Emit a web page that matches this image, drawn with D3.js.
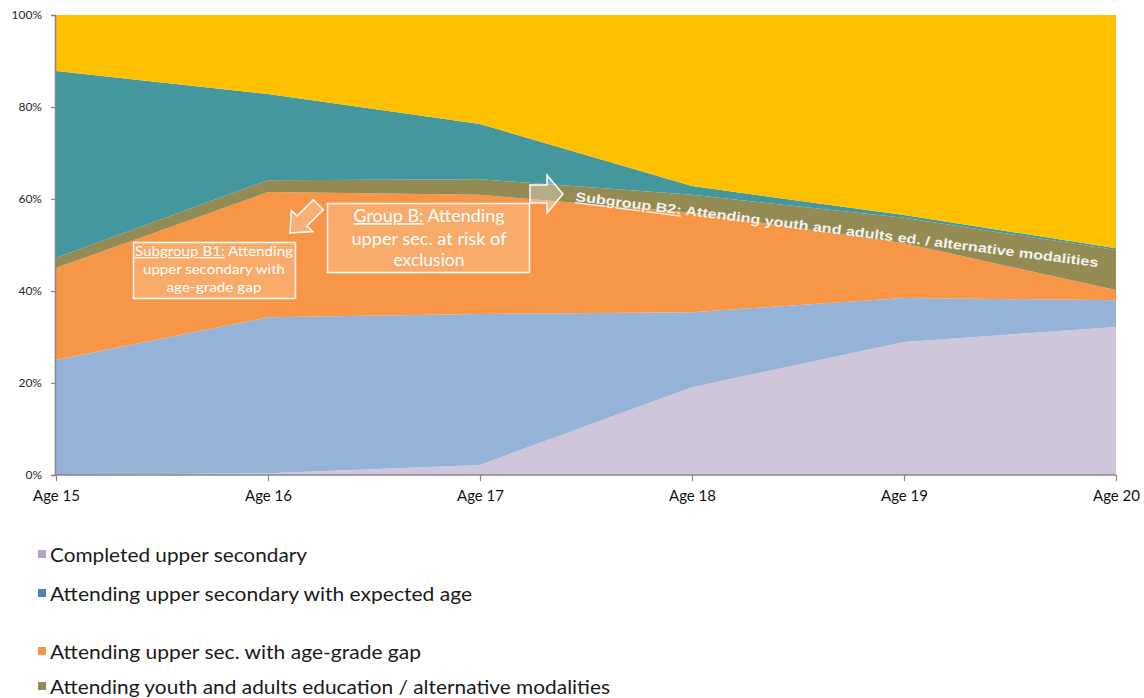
<!DOCTYPE html>
<html>
<head>
<meta charset="utf-8">
<script src="https://cdn.jsdelivr.net/npm/d3@7"></script>
<style>
  html, body { margin: 0; padding: 0; background: #fff; }
  svg { display: block; }
</style>
</head>
<body>
<svg id="chart" width="1144" height="698"></svg>
<script>
// Age groups along the x axis
const ages = ["Age 15", "Age 16", "Age 17", "Age 18", "Age 19", "Age 20"];

// Share of each age cohort (%) by educational situation, bottom layer first
const completed      = [0.0, 0.4, 2.2, 19.1, 28.9, 32.2];
const expectedAge    = [25.0, 33.9, 32.8, 16.3, 9.6, 5.8];
const ageGradeGap    = [20.0, 27.2, 25.9, 21.6, 11.9, 2.2];
const youthAdultEd   = [2.2, 2.6, 3.4, 3.9, 5.5, 8.7];
const lowerSecondary = [40.6, 18.7, 12.0, 1.9, 0.6, 0.4];
const notAttending   = [12.2, 17.2, 23.7, 37.2, 43.5, 50.7];

const yTicks = [0, 20, 40, 60, 80, 100];

const seriesKeys = ["completed", "expectedAge", "ageGradeGap", "youthAdultEd", "lowerSecondary", "notAttending"];
const seriesValues = { completed, expectedAge, ageGradeGap, youthAdultEd, lowerSecondary, notAttending };
const areaColors = {
  completed: "#d0c6dc",
  expectedAge: "#95b3d7",
  ageGradeGap: "#f79646",
  youthAdultEd: "#948a54",
  lowerSecondary: "#44979d",
  notAttending: "#ffc000"
};

// Legend (only the four school-attendance groups)
const legendLabels = [
  "Completed upper secondary",
  "Attending upper secondary with expected age",
  "Attending upper sec. with age-grade gap",
  "Attending youth and adults education / alternative modalities"
];
const legendColors = ["#b3a2c7", "#4f81bd", "#f79646", "#948a54"];

const rows = ages.map((a, i) => {
  const r = { age: a };
  seriesKeys.forEach(k => r[k] = seriesValues[k][i]);
  return r;
});

const svg = d3.select("#chart");
const font = "Lato, 'Open Sans', sans-serif";

const x = d3.scalePoint().domain(ages).range([56, 1116]);
const y = d3.scaleLinear().domain([0, 100]).range([475, 15]);

const stack = d3.stack().keys(seriesKeys);
const layers = stack(rows);

const area = d3.area()
  .x(d => x(d.data.age))
  .y0(d => y(d[0]))
  .y1(d => y(d[1]))
  .curve(d3.curveLinear);

svg.append("g").selectAll("path")
  .data(layers)
  .join("path")
  .attr("d", area)
  .attr("fill", d => areaColors[d.key]);

// Axes
const axisColor = "#868686";
const yAxis = svg.append("g")
  .attr("transform", "translate(55,0)")
  .call(d3.axisLeft(y).tickValues(yTicks).tickFormat(d => d + "%").tickSize(4).tickPadding(9));
yAxis.select(".domain").attr("stroke", axisColor).attr("stroke-width", 1.5);
yAxis.selectAll(".tick line").attr("stroke", axisColor).attr("stroke-width", 1.2);
yAxis.selectAll(".tick text")
  .attr("font-family", font).attr("font-size", 12).attr("fill", "#262626");

const xAxis = svg.append("g")
  .attr("transform", "translate(0,475)")
  .call(d3.axisBottom(x).tickSize(6).tickPadding(9).tickSizeOuter(0));
xAxis.select(".domain").attr("stroke", axisColor).attr("stroke-width", 1.5)
  .attr("d", "M55,0H1116");
xAxis.selectAll(".tick line").attr("stroke", axisColor).attr("stroke-width", 1.2);
xAxis.selectAll(".tick text")
  .attr("font-family", font).attr("font-size", 15).attr("fill", "#111")
  .attr("dy", "0.72em");

// Legend
const legendRowY = [555, 594, 652, 687];
const legendTextLen = [257, 422, 371, 560];
const legend = svg.append("g");
legendLabels.forEach((lab, i) => {
  legend.append("rect")
    .attr("x", 38).attr("y", legendRowY[i] - 5)
    .attr("width", 8).attr("height", 8)
    .attr("fill", legendColors[i]);
  legend.append("text")
    .attr("x", 50).attr("y", legendRowY[i] + 7)
    .attr("font-family", font).attr("font-size", 19).attr("fill", "#1a1a1a")
    .attr("textLength", legendTextLen[i]).attr("lengthAdjust", "spacingAndGlyphs")
    .text(lab);
});

// Annotations
const ann = svg.append("g");
const boxFill = "rgba(255,255,255,0.2)";

// Block arrow shape pointing along +x, tip at origin
function blockArrow(len, shaftHalf, headLen, headHalf) {
  return `M${-len},${-shaftHalf}H${-headLen}V${-headHalf}L0,0L${-headLen},${headHalf}V${shaftHalf}H${-len}Z`;
}

// Subgroup B1 box
ann.append("rect").attr("x", 133.5).attr("y", 242.5).attr("width", 162).attr("height", 56)
  .attr("fill", boxFill).attr("stroke", "#fff").attr("stroke-width", 1.5);
const b1 = [
  { parts: [["Subgroup B1:", true], [" Attending", false]], y: 256, len: 158 },
  { parts: [["upper secondary with", false]], y: 274, len: 142 },
  { parts: [["age-grade gap", false]], y: 292, len: 95 }
];
b1.forEach(l => {
  const t = ann.append("text").attr("x", 214).attr("y", l.y).attr("text-anchor", "middle")
    .attr("font-family", font).attr("font-size", 13).attr("fill", "#fff")
    .attr("textLength", l.len).attr("lengthAdjust", "spacingAndGlyphs");
  l.parts.forEach(p => t.append("tspan").text(p[0]).style("text-decoration", p[1] ? "underline" : "none"));
});

// Group B box
ann.append("rect").attr("x", 327.5).attr("y", 203.5).attr("width", 202).attr("height", 69)
  .attr("fill", boxFill).attr("stroke", "#fff").attr("stroke-width", 1.5);
const gb = [
  { parts: [["Group B:", true], [" Attending", false]], y: 222, len: 151 },
  { parts: [["upper sec. at risk of", false]], y: 245, len: 155 },
  { parts: [["exclusion", false]], y: 266, len: 71 }
];
gb.forEach(l => {
  const t = ann.append("text").attr("x", 429).attr("y", l.y).attr("text-anchor", "middle")
    .attr("font-family", font).attr("font-size", 17).attr("fill", "#fff")
    .attr("textLength", l.len).attr("lengthAdjust", "spacingAndGlyphs");
  l.parts.forEach(p => t.append("tspan").text(p[0]).style("text-decoration", p[1] ? "underline" : "none"));
});

// Arrow towards subgroup B1 (down-left)
ann.append("path")
  .attr("d", blockArrow(40, 7, 17, 15))
  .attr("transform", "translate(290,233) rotate(135)")
  .attr("fill", "rgba(255,255,255,0.25)").attr("stroke", "#fff").attr("stroke-width", 1.5)
  .attr("stroke-linejoin", "miter");

// Arrow towards subgroup B2 (right)
ann.append("path")
  .attr("d", blockArrow(33, 9, 16, 19))
  .attr("transform", "translate(563,194)")
  .attr("fill", "rgba(255,255,255,0.3)").attr("stroke", "#fff").attr("stroke-width", 1.5)
  .attr("stroke-linejoin", "miter");

// Subgroup B2 label running along its band
const b2 = ann.append("text")
  .attr("transform", "translate(575,201) rotate(7.2)")
  .attr("font-family", "'Liberation Sans', Arial, sans-serif").attr("font-size", 13)
  .attr("font-weight", "bold").attr("fill", "#f4f4f0")
  .attr("textLength", 527).attr("lengthAdjust", "spacingAndGlyphs");
b2.append("tspan").text("Subgroup B2:").style("text-decoration", "underline");
b2.append("tspan").text(" Attending youth  and adults ed. / alternative modalities");
</script>
</body>
</html>
